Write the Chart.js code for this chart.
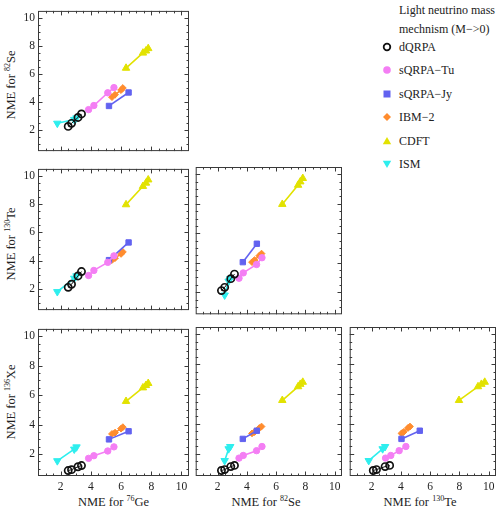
<!DOCTYPE html>
<html><head><meta charset="utf-8">
<script src="https://cdn.jsdelivr.net/npm/chart.js@4.4.1/dist/chart.umd.min.js"></script>
<style>
html,body{margin:0;padding:0;background:#fff;}
body{width:498px;height:516px;position:relative;overflow:hidden;font-family:"Liberation Serif",serif;}
canvas{position:absolute;}
.lg{position:absolute;font-size:12px;color:#222;white-space:nowrap;line-height:14px;height:14px;}
.mk{position:absolute;}
.ttl{position:absolute;font-size:12.5px;color:#222;white-space:nowrap;line-height:14px;}
.ttl .sp{font-size:8px;position:relative;top:-5px;}
</style></head><body>
<div class="lg" style="left:399px;top:3px;">Light neutrino mass</div>
<div class="lg" style="left:399px;top:22px;">mechnism (M−&gt;0)</div>
<div id="legend"></div>
<div id="titles"></div>
<script>
// ---- data ----
const nucleusMass = { Ge: '76', Se: '82', Te: '130', Xe: '136' };
const models = ['dQRPA', 'sQRPA−Tu', 'sQRPA−Jy', 'IBM−2', 'CDFT', 'ISM'];
const tickValues = [2, 4, 6, 8, 10];

const dQRPA_Ge = [2.50, 2.72, 3.15, 3.38];
const dQRPA_Se = [2.26, 2.48, 2.90, 3.15];
const dQRPA_Te = [2.11, 2.33, 2.92, 3.23];
const dQRPA_Xe = [0.87, 0.93, 1.13, 1.21];

const TU_Ge = [3.85, 4.20, 5.12, 5.53];
const TU_Se = [3.46, 3.75, 4.66, 5.03];
const TU_Te = [2.95, 3.31, 3.88, 4.34];
const TU_Xe = [1.70, 1.88, 2.20, 2.48];

const JY_Ge = [5.20, 6.50];
const JY_Se = [3.72, 4.68];
const JY_Te = [4.04, 5.29];
const JY_Xe = [2.99, 3.54];

const IBM_Ge = [5.40, 5.60, 6.00, 6.12];
const IBM_Se = [4.35, 4.52, 4.85, 5.00];
const IBM_Te = [4.04, 4.18, 4.48, 4.62];
const IBM_Xe = [3.36, 3.45, 3.72, 3.82];

const CDFT_Ge = [6.33, 7.45, 7.65, 7.80];
const CDFT_Se = [6.42, 7.50, 7.65, 7.82];
const CDFT_Te = [7.97, 9.27, 9.50, 9.73];
const CDFT_Xe = [5.58, 6.50, 6.66, 6.80];

const ISM_Ge = [1.78, 2.90, 3.05];
const ISM_Se = [2.48, 2.75, 2.86];
const ISM_Te = [1.80, 2.75, 2.92];
const ISM_Xe = [1.53, 2.32, 2.47];

const series = [
  { Ge: dQRPA_Ge, Se: dQRPA_Se, Te: dQRPA_Te, Xe: dQRPA_Xe },
  { Ge: TU_Ge, Se: TU_Se, Te: TU_Te, Xe: TU_Xe },
  { Ge: JY_Ge, Se: JY_Se, Te: JY_Te, Xe: JY_Xe },
  { Ge: IBM_Ge, Se: IBM_Se, Te: IBM_Te, Xe: IBM_Xe },
  { Ge: CDFT_Ge, Se: CDFT_Se, Te: CDFT_Te, Xe: CDFT_Xe },
  { Ge: ISM_Ge, Se: ISM_Se, Te: ISM_Te, Xe: ISM_Xe }
];

// ---- styles ----
const styles = [
  { color: '#111111', fill: 'rgba(0,0,0,0)', style: 'circle', r: 3.6, bw: 1.7, rot: 0, lw: 1 },
  { color: '#F47EF4', fill: '#F47EF4', style: 'circle', r: 3.2, bw: 1, rot: 0, lw: 1.6 },
  { color: '#6262F0', fill: '#6262F0', style: 'rect', r: 3.8, bw: 1, rot: 0, lw: 1.6 },
  { color: '#FF8C2E', fill: '#FF8C2E', style: 'rectRot', r: 3.4, bw: 1, rot: 0, lw: 1.6 },
  { color: '#E2E200', fill: '#E2E200', style: 'triangle', r: 4.3, bw: 1, rot: 0, lw: 1.6 },
  { color: '#2EEEEE', fill: '#2EEEEE', style: 'triangle', r: 4.3, bw: 1, rot: 180, lw: 1.6 }
];

const cols = [[38, 189], [190, 342], [344, 496]];
const rows = [[9, 161], [167, 320], [327, 476]];
const xNuc = ['Ge', 'Se', 'Te'];
const yNuc = ['Se', 'Te', 'Xe'];
const FONT = '"Liberation Serif", "Times New Roman", serif';
const TXT = '#222';

const framePlugin = {
  id: 'frame',
  beforeDatasetsDraw(chart) {
    const { ctx, chartArea: a, scales: { x, y } } = chart;
    ctx.save();
    ctx.strokeStyle = '#3a3a3a';
    ctx.lineWidth = 1;
    ctx.strokeRect(a.left + 0.5, a.top + 0.5, a.right - a.left - 1, a.bottom - a.top - 1);
    ctx.beginPath();
    for (let k = 2; k <= 20; k++) {
      const v = k / 2;
      const major = tickValues.includes(v);
      const len = major ? 4.5 : 2.5;
      const px = Math.round(x.getPixelForValue(v)) + 0.5;
      const py = Math.round(y.getPixelForValue(v)) + 0.5;
      if (px > a.left + 1 && px < a.right - 1) {
        ctx.moveTo(px, a.bottom); ctx.lineTo(px, a.bottom - len);
        ctx.moveTo(px, a.top); ctx.lineTo(px, a.top + len);
      }
      if (py > a.top + 1 && py < a.bottom - 1) {
        ctx.moveTo(a.left, py); ctx.lineTo(a.left + len, py);
        ctx.moveTo(a.right, py); ctx.lineTo(a.right - len, py);
      }
    }
    ctx.stroke();
    ctx.restore();
  }
};

function makeDatasets(xn, yn) {
  return models.map((name, i) => {
    const s = styles[i];
    const xs = series[i][xn], ys = series[i][yn];
    return {
      label: name,
      data: xs.map((v, j) => ({ x: v, y: ys[j] })),
      showLine: true,
      borderColor: s.color,
      borderWidth: s.lw,
      backgroundColor: s.fill,
      pointStyle: s.style,
      pointRadius: s.r,
      pointRotation: s.rot,
      pointBackgroundColor: s.fill,
      pointBorderColor: s.color,
      pointBorderWidth: s.bw
    };
  });
}

const PAD = 8;
for (let r = 0; r < 3; r++) {
  for (let c = 0; c <= r; c++) {
    const [L, R] = cols[c];
    const [T, B] = rows[r];
    const yw = c === 0 ? 38 : 0;
    const xh = r === 2 ? 38 : 0;
    const cv = document.createElement('canvas');
    const w = yw + (R - L) + PAD, h = PAD + (B - T) + xh;
    cv.width = w; cv.height = h;
    cv.style.left = (L - yw) + 'px';
    cv.style.top = (T - PAD) + 'px';
    cv.style.width = w + 'px'; cv.style.height = h + 'px';
    document.body.appendChild(cv);
    new Chart(cv, {
      type: 'scatter',
      data: { datasets: makeDatasets(xNuc[c], yNuc[r]) },
      plugins: [framePlugin],
      options: {
        responsive: false,
        animation: false,
        devicePixelRatio: 1,
        layout: { padding: { top: PAD, right: PAD, left: 0, bottom: 0 } },
        plugins: { legend: { display: false }, tooltip: { enabled: false } },
        scales: {
          x: {
            type: 'linear', min: 0.5, max: 10.5, display: r === 2,
            grid: { display: false, drawTicks: false },
            border: { display: false },
            afterBuildTicks: s => { s.ticks = tickValues.map(v => ({ value: v })); },
            afterFit: s => { s.height = xh; },
            ticks: { font: { family: FONT, size: 11.5 }, color: TXT, padding: 4, maxRotation: 0, autoSkip: false },
            title: { display: false }
          },
          y: {
            type: 'linear', min: 0.5, max: 10.5, display: c === 0,
            grid: { display: false, drawTicks: false },
            border: { display: false },
            afterBuildTicks: s => { s.ticks = tickValues.map(v => ({ value: v })); },
            afterFit: s => { s.width = yw; },
            ticks: { font: { family: FONT, size: 11.5 }, color: TXT, padding: 3, autoSkip: false },
            title: { display: false }
          }
        }
      }
    });
  }
}

// ---- axis titles (HTML, with real superscripts) ----
const titles = document.getElementById('titles');
function titleHTML(n) {
  return 'NME for <span class="sp">' + nucleusMass[n] + '</span>' + n;
}
xNuc.forEach((n, c) => {
  const d = document.createElement('div');
  d.className = 'ttl';
  d.innerHTML = titleHTML(n);
  d.style.left = ((cols[c][0] + cols[c][1]) / 2) + 'px';
  d.style.top = '503px';
  d.style.transform = 'translate(-50%,-50%)';
  titles.appendChild(d);
});
yNuc.forEach((n, r) => {
  const d = document.createElement('div');
  d.className = 'ttl';
  d.innerHTML = titleHTML(n);
  d.style.left = '12px';
  d.style.top = ((rows[r][0] + rows[r][1]) / 2) + 'px';
  d.style.transform = 'translate(-50%,-50%) rotate(-90deg)';
  titles.appendChild(d);
});

// ---- legend (HTML text + svg markers) ----
const legendY = [46.7, 70, 94, 116.7, 140.7, 164];
const markerSvg = [
  '<circle cx="7" cy="7" r="3.3" fill="none" stroke="#111" stroke-width="1.8"/>',
  '<circle cx="7" cy="7" r="3.8" fill="#F47EF4"/>',
  '<rect x="3.5" y="3.5" width="7" height="7" fill="#6262F0"/>',
  '<polygon points="7,3 11,7 7,11 3,7" fill="#FF8C2E"/>',
  '<polygon points="7,3 11.2,10.3 2.8,10.3" fill="#E2E200"/>',
  '<polygon points="7,11 11.2,3.7 2.8,3.7" fill="#2EEEEE"/>'
];
const lg = document.getElementById('legend');
models.forEach((name, i) => {
  const y = legendY[i];
  const m = document.createElement('div');
  m.className = 'mk';
  m.style.left = (386.7 - 7) + 'px';
  m.style.top = (y - 7) + 'px';
  m.innerHTML = '<svg width="14" height="14">' + markerSvg[i] + '</svg>';
  lg.appendChild(m);
  const t = document.createElement('div');
  t.className = 'lg';
  t.style.left = '399px';
  t.style.top = (y - 7) + 'px';
  t.textContent = name;
  lg.appendChild(t);
});
</script>
</body></html>
